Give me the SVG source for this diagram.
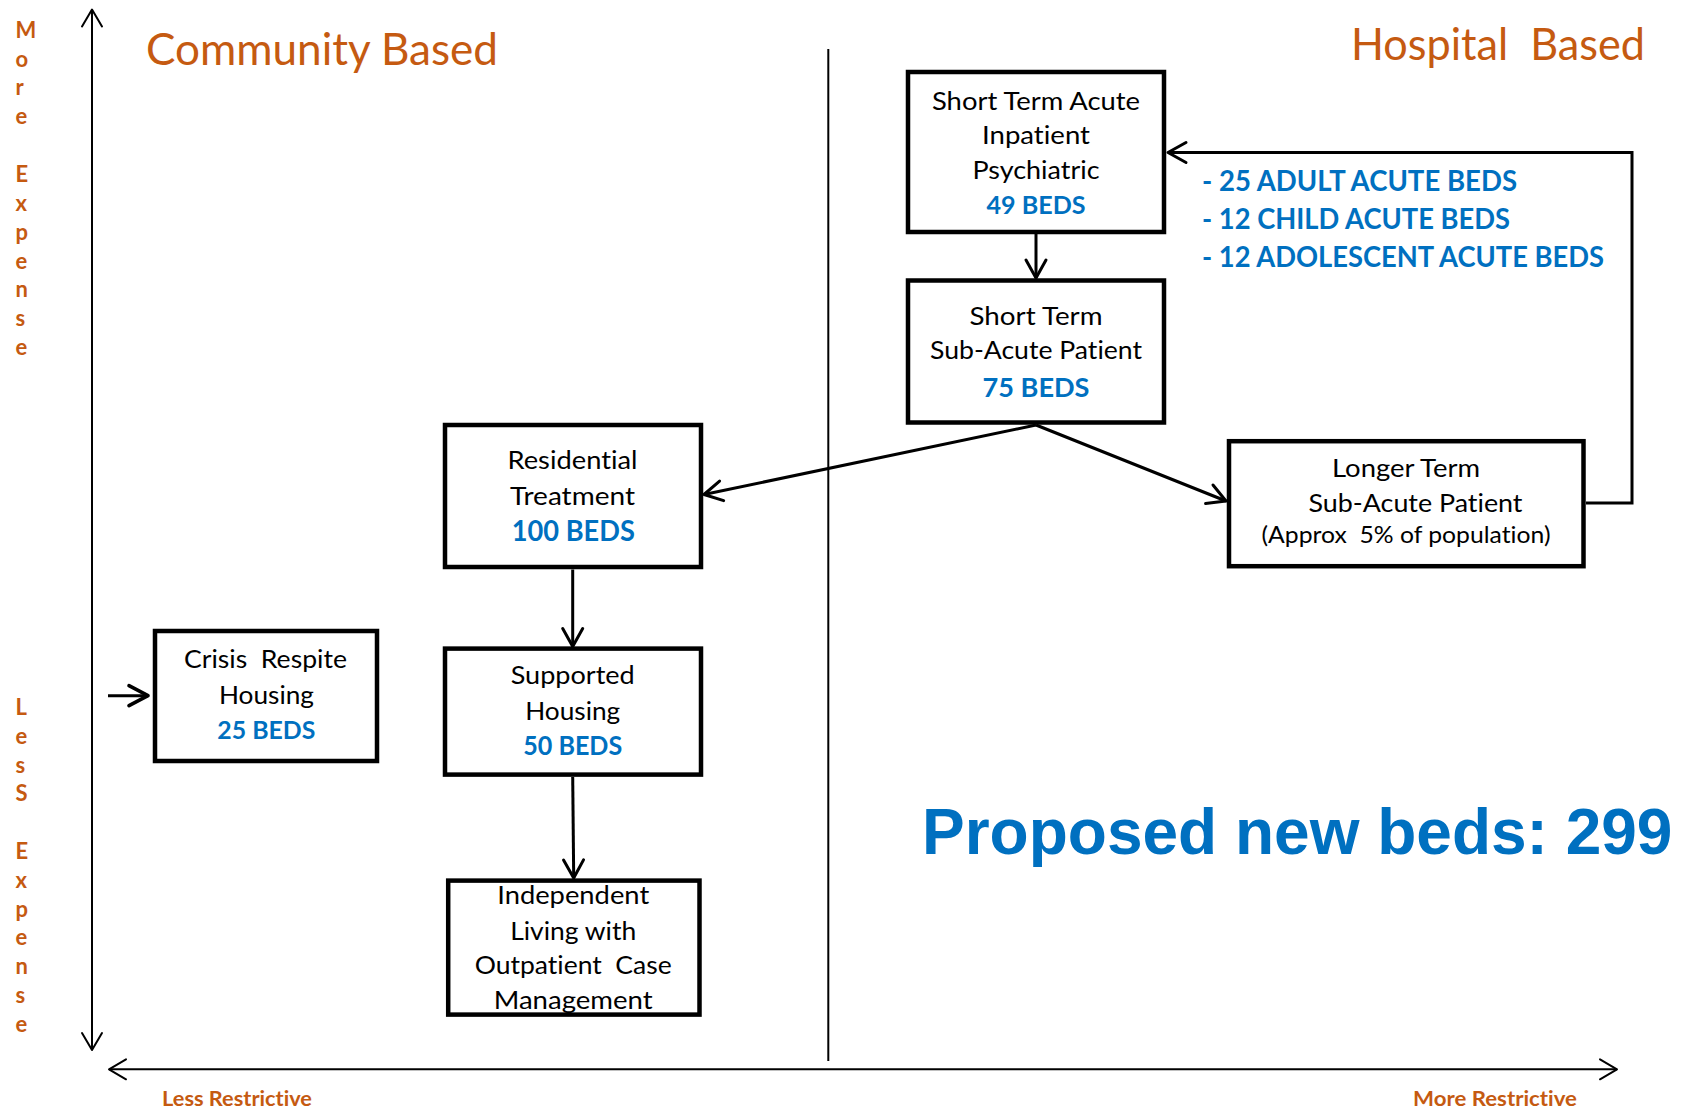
<svg xmlns="http://www.w3.org/2000/svg" width="1685" height="1110" viewBox="0 0 1685 1110">
<style>
  .bg{fill:#fff}
  .box{fill:#fff;stroke:#000;stroke-width:4.5;stroke-linejoin:miter}
  text{font-variant-ligatures:none}
  .t{font-family:Lato,"Liberation Sans",sans-serif;fill:#000;text-anchor:middle;white-space:pre}
  .b{font-family:Lato,"Liberation Sans",sans-serif;font-weight:bold;fill:#0070C0;text-anchor:middle}
  .or{font-family:Lato,"Liberation Sans",sans-serif;fill:#C55A11;white-space:pre}
  .orb{font-family:Lato,"Liberation Sans",sans-serif;font-weight:bold;fill:#C55A11}
  .list{font-family:Lato,"Liberation Sans",sans-serif;font-weight:bold;fill:#0070C0;font-size:28px}
  .conn{fill:none;stroke:#000;stroke-width:3}
  .axis{fill:none;stroke:#000;stroke-width:2}
</style>
<defs>
  <marker id="ah" markerUnits="userSpaceOnUse" markerWidth="24" markerHeight="24" viewBox="0 0 24 24" refX="19" refY="12" orient="auto" overflow="visible">
    <path d="M1,2 L19,12 L1,22" fill="none" stroke="#000" stroke-width="3" stroke-linejoin="round" stroke-linecap="round"/>
  </marker>
  <marker id="ahb" markerUnits="userSpaceOnUse" markerWidth="24" markerHeight="24" viewBox="0 0 24 24" refX="20" refY="12" orient="auto" overflow="visible">
    <path d="M1,2 L20,12 L1,22" fill="none" stroke="#000" stroke-width="3.6" stroke-linejoin="round" stroke-linecap="round"/>
  </marker>
  <marker id="ax" markerUnits="userSpaceOnUse" markerWidth="24" markerHeight="24" viewBox="0 0 24 24" refX="18" refY="12" orient="auto-start-reverse" overflow="visible">
    <path d="M1,2 L18,12 L1,22" fill="none" stroke="#000" stroke-width="2" stroke-linejoin="round" stroke-linecap="round"/>
  </marker>
</defs>
<rect class="bg" x="0" y="0" width="1685" height="1110"/>

<g id="labels">
  <text class="or" x="146" y="65" font-size="44" textLength="352" lengthAdjust="spacingAndGlyphs">Community Based</text>
  <text class="or" x="1351" y="60" font-size="44" textLength="294" lengthAdjust="spacingAndGlyphs">Hospital  Based</text>
  <text class="orb" font-size="22">
    <tspan x="15.5" y="37.7">M</tspan><tspan x="15.5" y="66.5">o</tspan><tspan x="15.5" y="95.4">r</tspan><tspan x="15.5" y="124.2">e</tspan>
    <tspan x="15.5" y="181.9">E</tspan><tspan x="15.5" y="210.8">x</tspan><tspan x="15.5" y="239.6">p</tspan><tspan x="15.5" y="268.5">e</tspan><tspan x="15.5" y="297.3">n</tspan><tspan x="15.5" y="326.2">s</tspan><tspan x="15.5" y="355">e</tspan>
  </text>
  <text class="orb" font-size="22">
    <tspan x="15.5" y="715">L</tspan><tspan x="15.5" y="743.8">e</tspan><tspan x="15.5" y="772.6">s</tspan><tspan x="15.5" y="801.4">S</tspan>
    <tspan x="15.5" y="859">E</tspan><tspan x="15.5" y="887.8">x</tspan><tspan x="15.5" y="916.6">p</tspan><tspan x="15.5" y="945.4">e</tspan><tspan x="15.5" y="974.2">n</tspan><tspan x="15.5" y="1003">s</tspan><tspan x="15.5" y="1031.8">e</tspan>
  </text>
  <text class="orb" x="162" y="1106" font-size="21" textLength="150" lengthAdjust="spacingAndGlyphs">Less Restrictive</text>
  <text class="orb" x="1413" y="1106" font-size="21" textLength="164" lengthAdjust="spacingAndGlyphs">More Restrictive</text>
  <text x="922" y="854" font-family="'Liberation Sans',Arial,sans-serif" font-weight="bold" font-size="64" fill="#0070C0">Proposed new beds: 299</text>
  <text class="list" x="1202" y="190.7" textLength="315" lengthAdjust="spacingAndGlyphs">- 25 ADULT ACUTE BEDS</text>
  <text class="list" x="1202" y="229" textLength="308" lengthAdjust="spacingAndGlyphs">- 12 CHILD ACUTE BEDS</text>
  <text class="list" x="1202" y="266.7" textLength="402" lengthAdjust="spacingAndGlyphs">- 12 ADOLESCENT ACUTE BEDS</text>
</g>

<g id="connectors">
  <path class="axis" d="M92,1050 L92,9.5" marker-start="url(#ax)" marker-end="url(#ax)"/>
  <path class="axis" d="M109,1069.3 L1617,1069.3" marker-start="url(#ax)" marker-end="url(#ax)"/>
  <path class="axis" d="M828.3,49 L828.3,1061"/>
  <path class="conn" d="M1036,234 L1036,278" marker-end="url(#ah)"/>
  <path class="conn" d="M1036,425 L704,494.5" marker-end="url(#ah)"/>
  <path class="conn" d="M1036,425 L1226,501" marker-end="url(#ah)"/>
  <path class="conn" d="M572.7,569.5 L572.7,646.5" marker-end="url(#ah)"/>
  <path class="conn" d="M572.7,777 L573.7,878" marker-end="url(#ah)"/>
  <path class="conn" d="M1586,503 L1632,503 L1632,152.5 L1168,152.5" marker-end="url(#ah)"/>
  <path class="conn" d="M108,695.7 L148,695.7" stroke-width="3.6" marker-end="url(#ahb)"/>
</g>

<g id="node-acute">
  <rect class="box" x="908" y="72" width="256" height="160"/>
  <text class="t" x="1036" y="110" font-size="25.5" textLength="208" lengthAdjust="spacingAndGlyphs">Short Term Acute</text>
  <text class="t" x="1036" y="143.5" font-size="25.5" textLength="108" lengthAdjust="spacingAndGlyphs">Inpatient</text>
  <text class="t" x="1036" y="178.5" font-size="25.5" textLength="127" lengthAdjust="spacingAndGlyphs">Psychiatric</text>
  <text class="b" x="1036" y="214" font-size="25" textLength="99" lengthAdjust="spacingAndGlyphs">49 BEDS</text>
</g>

<g id="node-subacute">
  <rect class="box" x="908" y="280.5" width="256" height="142"/>
  <text class="t" x="1036" y="325" font-size="25.5" textLength="133" lengthAdjust="spacingAndGlyphs">Short Term</text>
  <text class="t" x="1036" y="359" font-size="25.5" textLength="212" lengthAdjust="spacingAndGlyphs">Sub-Acute Patient</text>
  <text class="b" x="1036" y="396.7" font-size="27" textLength="107" lengthAdjust="spacingAndGlyphs">75 BEDS</text>
</g>

<g id="node-longer">
  <rect class="box" x="1229" y="441.2" width="354.5" height="125"/>
  <text class="t" x="1406" y="476.7" font-size="25.5" textLength="148" lengthAdjust="spacingAndGlyphs">Longer Term</text>
  <text class="t" x="1415.5" y="511.7" font-size="25.5" textLength="214" lengthAdjust="spacingAndGlyphs">Sub-Acute Patient</text>
  <text class="t" x="1406" y="543.3" font-size="23.5" textLength="289" lengthAdjust="spacingAndGlyphs">(Approx  5% of population)</text>
</g>

<g id="node-residential">
  <rect class="box" x="445" y="425" width="256" height="142"/>
  <text class="t" x="572.5" y="469.3" font-size="25.5" textLength="130" lengthAdjust="spacingAndGlyphs">Residential</text>
  <text class="t" x="572.5" y="504.9" font-size="25.5" textLength="125" lengthAdjust="spacingAndGlyphs">Treatment</text>
  <text class="b" x="573.3" y="541.2" font-size="28" textLength="123" lengthAdjust="spacingAndGlyphs">100 BEDS</text>
</g>

<g id="node-supported">
  <rect class="box" x="445" y="648.6" width="256" height="126"/>
  <text class="t" x="572.7" y="684" font-size="25.5" textLength="124" lengthAdjust="spacingAndGlyphs">Supported</text>
  <text class="t" x="572.7" y="719.5" font-size="25.5" textLength="95" lengthAdjust="spacingAndGlyphs">Housing</text>
  <text class="b" x="572.7" y="755" font-size="27" textLength="99" lengthAdjust="spacingAndGlyphs">50 BEDS</text>
</g>

<g id="node-independent">
  <rect class="box" x="448.2" y="880.6" width="251.3" height="134"/>
  <text class="t" x="573.2" y="904" font-size="25.5" textLength="152" lengthAdjust="spacingAndGlyphs">Independent</text>
  <text class="t" x="573.2" y="939.6" font-size="25.5" textLength="126" lengthAdjust="spacingAndGlyphs">Living with</text>
  <text class="t" x="573.2" y="974.4" font-size="25.5" textLength="197" lengthAdjust="spacingAndGlyphs">Outpatient  Case</text>
  <text class="t" x="573.2" y="1008.8" font-size="25.5" textLength="159" lengthAdjust="spacingAndGlyphs">Management</text>
</g>

<g id="node-crisis">
  <rect class="box" x="155" y="631" width="222" height="130"/>
  <text class="t" x="265.5" y="668" font-size="24.5" textLength="163" lengthAdjust="spacingAndGlyphs">Crisis  Respite</text>
  <text class="t" x="266.5" y="704" font-size="24.5" textLength="95" lengthAdjust="spacingAndGlyphs">Housing</text>
  <text class="b" x="266.3" y="739.3" font-size="25" textLength="98" lengthAdjust="spacingAndGlyphs">25 BEDS</text>
</g>
</svg>
